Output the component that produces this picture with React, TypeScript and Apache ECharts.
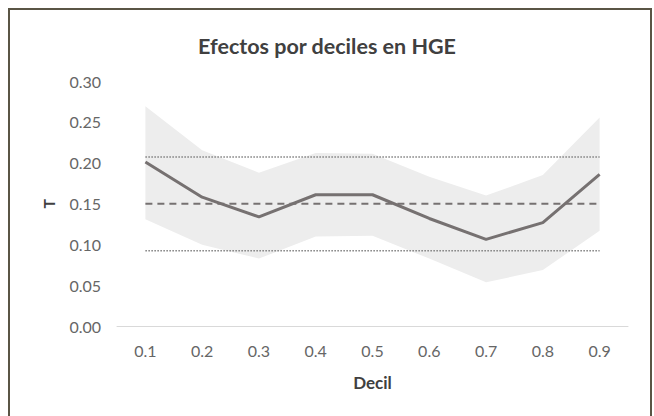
import React, { useEffect, useRef } from "react";
import * as echarts from "echarts";

const categories = ["0.1", "0.2", "0.3", "0.4", "0.5", "0.6", "0.7", "0.8", "0.9"];
const effect = [0.201, 0.158, 0.134, 0.161, 0.161, 0.132, 0.1065, 0.127, 0.186];
const upperBand = [0.269, 0.2155, 0.188, 0.212, 0.211, 0.183, 0.16, 0.185, 0.2555];
const lowerBand = [0.131, 0.1, 0.083, 0.11, 0.111, 0.083, 0.054, 0.069, 0.117];
const meanLine = [0.15, 0.15, 0.15, 0.15, 0.15, 0.15, 0.15, 0.15, 0.15];
const upperRef = [0.207, 0.207, 0.207, 0.207, 0.207, 0.207, 0.207, 0.207, 0.207];
const lowerRef = [0.0925, 0.0925, 0.0925, 0.0925, 0.0925, 0.0925, 0.0925, 0.0925, 0.0925];

const FONT = "Lato, 'Open Sans', sans-serif";

export default function App() {
  const ref = useRef<HTMLDivElement>(null);
  useEffect(() => {
    if (!ref.current) return;
    const chart = echarts.init(ref.current, undefined, { renderer: "svg" });
    const bandWidth = upperBand.map((u, i) => +(u - lowerBand[i]).toFixed(4));
    chart.setOption({
      animation: false,
      backgroundColor: "#ffffff",
      textStyle: { fontFamily: FONT },
      title: {
        text: "Efectos por deciles en HGE",
        left: "center",
        top: 30,
        textStyle: { fontFamily: FONT, fontSize: 21.5, fontWeight: "bold", color: "#404040" },
      },
      graphic: [
        {
          type: "rect",
          shape: { x: 9, y: 9, width: 642, height: 420 },
          style: { fill: "none", stroke: "#5a5545", lineWidth: 2 },
          silent: true,
          z: 100,
        },
      ],
      grid: { left: 117, right: 26, top: 81, bottom: 89.5 },
      xAxis: {
        type: "category",
        data: categories,
        boundaryGap: true,
        axisLine: { show: true, lineStyle: { color: "#d9d9d9", width: 1 } },
        axisTick: { show: false },
        axisLabel: { fontFamily: FONT, fontSize: 16, color: "#666666", margin: 16 },
        name: "Decil",
        nameLocation: "middle",
        nameGap: 47,
        nameTextStyle: { fontFamily: FONT, fontSize: 17, fontWeight: "bold", color: "#404040" },
        splitLine: { show: false },
      },
      yAxis: {
        type: "value",
        min: 0,
        max: 0.3,
        interval: 0.05,
        axisLine: { show: false },
        axisTick: { show: false },
        splitLine: { show: false },
        axisLabel: {
          fontFamily: FONT,
          fontSize: 16,
          color: "#666666",
          margin: 16,
          formatter: (v: number) => v.toFixed(2),
        },
        name: "T",
        nameLocation: "middle",
        nameRotate: 90,
        nameGap: 61,
        nameTextStyle: { fontFamily: FONT, fontSize: 16, fontWeight: "bold", color: "#404040" },
      },
      series: [
        {
          type: "line",
          stack: "band",
          data: lowerBand,
          symbol: "none",
          lineStyle: { opacity: 0 },
          areaStyle: { opacity: 0 },
          silent: true,
          z: 1,
        },
        {
          type: "line",
          stack: "band",
          data: bandWidth,
          symbol: "none",
          lineStyle: { opacity: 0 },
          areaStyle: { color: "#ededed", opacity: 1 },
          silent: true,
          z: 1,
        },
        {
          type: "line",
          data: upperRef,
          symbol: "none",
          lineStyle: { color: "#7f7f7f", width: 1.5, type: [1.5, 1.5] },
          z: 2,
        },
        {
          type: "line",
          data: lowerRef,
          symbol: "none",
          lineStyle: { color: "#7f7f7f", width: 1.5, type: [1.5, 1.5] },
          z: 2,
        },
        {
          type: "line",
          data: meanLine,
          symbol: "none",
          lineStyle: { color: "#767171", width: 2, type: [7, 5] },
          z: 3,
        },
        {
          type: "line",
          data: effect,
          symbol: "none",
          lineStyle: { color: "#767171", width: 3 },
          z: 4,
        },
      ],
    });
    return () => chart.dispose();
  }, []);
  return (
    <div
      ref={ref}
      style={{ position: "fixed", left: 0, top: 0, width: 654, height: 416 }}
    />
  );
}
